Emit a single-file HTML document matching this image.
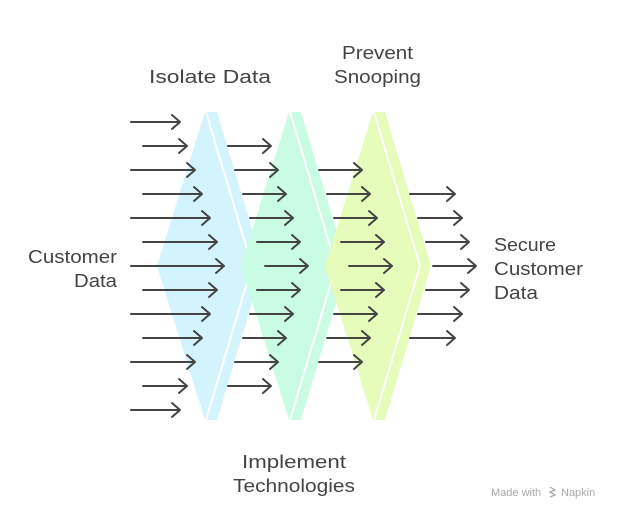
<!DOCTYPE html>
<html><head><meta charset="utf-8"><style>
html,body{margin:0;padding:0;background:#fff;width:624px;height:519px;overflow:hidden}
svg{display:block}
text{font-family:"Liberation Sans",sans-serif;font-size:18px;fill:#444}
</style></head><body>
<svg width="624" height="519" viewBox="0 0 624 519" xmlns="http://www.w3.org/2000/svg">
<polygon points="205,112 217,112 263,266 217,420 205,420 157,266" fill="#d3f3fd"/>
<polyline points="206,112 252,266 206,420" fill="none" stroke="#fff" stroke-width="2"/>
<polygon points="289,112 301,112 347,266 301,420 289,420 241,266" fill="#c9fce3"/>
<polyline points="290,112 336,266 290,420" fill="none" stroke="#fff" stroke-width="2"/>
<polygon points="373,112 385,112 431,266 385,420 373,420 325,266" fill="#e6fcbb"/>
<polyline points="374,112 420,266 374,420" fill="none" stroke="#fff" stroke-width="2"/>
<g stroke="#444" stroke-width="2" fill="none" stroke-linecap="round" stroke-linejoin="round">
<path d="M131 122H180M172 115L180 122L172 129"/>
<path d="M143 146H187M179 139L187 146L179 153"/>
<path d="M131 170H195M187 163L195 170L187 177"/>
<path d="M143 194H202M194 187L202 194L194 201"/>
<path d="M131 218H210M202 211L210 218L202 225"/>
<path d="M143 242H217M209 235L217 242L209 249"/>
<path d="M131 266H224M216 259L224 266L216 273"/>
<path d="M143 290H217M209 283L217 290L209 297"/>
<path d="M131 314H210M202 307L210 314L202 321"/>
<path d="M143 338H202M194 331L202 338L194 345"/>
<path d="M131 362H195M187 355L195 362L187 369"/>
<path d="M143 386H187M179 379L187 386L179 393"/>
<path d="M131 410H180M172 403L180 410L172 417"/>
<path d="M228 146H271M263 139L271 146L263 153"/>
<path d="M235 170H278M270 163L278 170L270 177"/>
<path d="M243 194H286M278 187L286 194L278 201"/>
<path d="M250 218H293M285 211L293 218L285 225"/>
<path d="M257 242H300M292 235L300 242L292 249"/>
<path d="M265 266H308M300 259L308 266L300 273"/>
<path d="M257 290H300M292 283L300 290L292 297"/>
<path d="M250 314H293M285 307L293 314L285 321"/>
<path d="M243 338H286M278 331L286 338L278 345"/>
<path d="M235 362H278M270 355L278 362L270 369"/>
<path d="M228 386H271M263 379L271 386L263 393"/>
<path d="M319 170H362M354 163L362 170L354 177"/>
<path d="M327 194H370M362 187L370 194L362 201"/>
<path d="M334 218H377M369 211L377 218L369 225"/>
<path d="M341 242H384M376 235L384 242L376 249"/>
<path d="M349 266H392M384 259L392 266L384 273"/>
<path d="M341 290H384M376 283L384 290L376 297"/>
<path d="M334 314H377M369 307L377 314L369 321"/>
<path d="M327 338H370M362 331L370 338L362 345"/>
<path d="M319 362H362M354 355L362 362L354 369"/>
<path d="M410 194H455M447 187L455 194L447 201"/>
<path d="M418 218H462M454 211L462 218L454 225"/>
<path d="M426 242H469M461 235L469 242L461 249"/>
<path d="M433 266H476M468 259L476 266L468 273"/>
<path d="M426 290H469M461 283L469 290L461 297"/>
<path d="M418 314H462M454 307L462 314L454 321"/>
<path d="M410 338H455M447 331L455 338L447 345"/>
</g>
<text x="149" y="83" textLength="122" lengthAdjust="spacingAndGlyphs">Isolate Data</text>
<text x="342" y="59" textLength="71" lengthAdjust="spacingAndGlyphs">Prevent</text>
<text x="334" y="83" textLength="87" lengthAdjust="spacingAndGlyphs">Snooping</text>
<text x="28" y="263" textLength="89" lengthAdjust="spacingAndGlyphs">Customer</text>
<text x="74" y="287" textLength="43" lengthAdjust="spacingAndGlyphs">Data</text>
<text x="494" y="251" textLength="62" lengthAdjust="spacingAndGlyphs">Secure</text>
<text x="494" y="275" textLength="89" lengthAdjust="spacingAndGlyphs">Customer</text>
<text x="494" y="299" textLength="44" lengthAdjust="spacingAndGlyphs">Data</text>
<text x="242" y="468" textLength="104" lengthAdjust="spacingAndGlyphs">Implement</text>
<text x="233" y="492" textLength="122" lengthAdjust="spacingAndGlyphs">Technologies</text>
<text x="491" y="496" style="font-size:11px;fill:#aaa">Made with</text>
<path d="M550 487l5 3-5 2 5 3-5 2" stroke="#aaa" stroke-width="1.3" fill="none"/>
<text x="561" y="496" style="font-size:11px;fill:#aaa">Napkin</text>
</svg>
</body></html>
